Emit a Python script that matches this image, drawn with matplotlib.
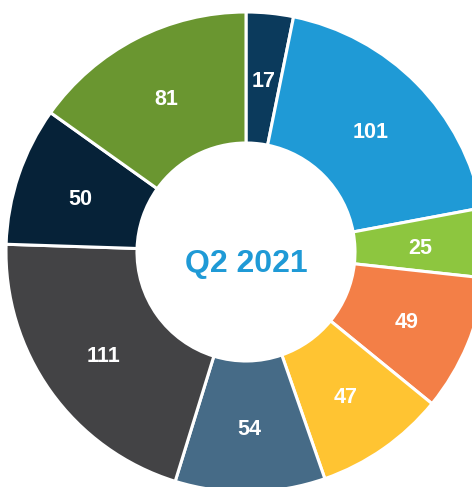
import matplotlib.pyplot as plt
import numpy as np

plt.switch_backend('Agg')

values = [17, 101, 25, 49, 47, 54, 111, 50, 81]
colors = ['#0B3A5C', '#1F9AD6', '#8DC63F', '#F37F47', '#FFC432',
          '#466B87', '#434345', '#062238', '#6A9630']
center_label = 'Q2 2021'

W, H = 472, 487
cx, cy = 246, 252      # pixel centre of the donut
R = 240                # outer radius in pixels

fig = plt.figure(figsize=(W / 100, H / 100), dpi=100)
ax = fig.add_axes([0, 0, 1, 1])

wedges, _ = ax.pie(values, colors=colors, startangle=90, counterclock=False,
                   radius=1.0,
                   wedgeprops=dict(width=1 - 109 / R, edgecolor='white', linewidth=2.2))

# labels in the middle of the ring
label_r = (1 + 109 / R) / 2
for w, v in zip(wedges, values):
    ang = np.deg2rad((w.theta1 + w.theta2) / 2)
    ax.text(label_r * np.cos(ang), label_r * np.sin(ang) - 3 / R, str(v),
            ha='center', va='center', color='white', fontsize=15.5,
            fontweight='bold', family='Liberation Sans')

ax.text(0, -0.048, center_label, ha='center', va='center', color='#1F9AD6',
        fontsize=23, fontweight='bold', family='Liberation Sans')

ax.set_xlim(-cx / R, (W - cx) / R)
ax.set_ylim(-(H - cy) / R, cy / R)
ax.set_aspect('auto')
ax.axis('off')

plt.savefig('out.png', dpi=100)
plt.close(fig)
